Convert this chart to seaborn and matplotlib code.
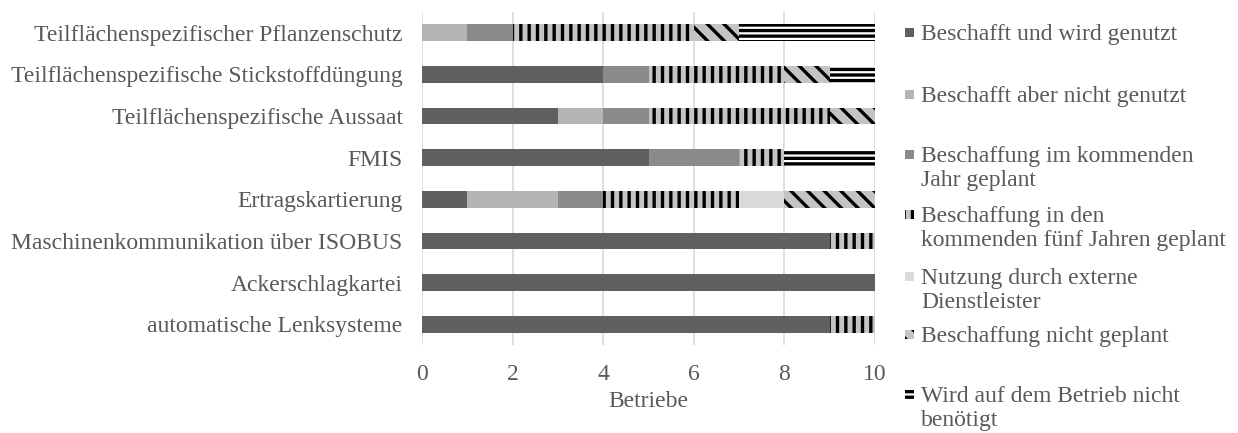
import pandas as pd
import matplotlib.pyplot as plt
import matplotlib.patches as mpatches
import seaborn as sns
import numpy as np

### Daten
kategorien = ["Teilflächenspezifischer Pflanzenschutz",
              "Teilflächenspezifische Stickstoffdüngung",
              "Teilflächenspezifische Aussaat",
              "FMIS",
              "Ertragskartierung",
              "Maschinenkommunikation über ISOBUS",
              "Ackerschlagkartei",
              "automatische Lenksysteme"]

beschafft_genutzt = [0, 4, 3, 5, 1, 9, 10, 9]
beschafft_nicht_genutzt = [1, 0, 1, 0, 2, 0, 0, 0]
kommendes_jahr = [1, 1, 1, 2, 1, 0, 0, 0]
fuenf_jahre = [4, 3, 4, 1, 3, 1, 0, 1]
extern = [0, 0, 0, 0, 1, 0, 0, 0]
nicht_geplant = [1, 1, 1, 0, 2, 0, 0, 0]
nicht_benoetigt = [3, 1, 0, 2, 0, 0, 0, 0]

serien = [
    ("Beschafft und wird genutzt", beschafft_genutzt),
    ("Beschafft aber nicht genutzt", beschafft_nicht_genutzt),
    ("Beschaffung im kommenden\nJahr geplant", kommendes_jahr),
    ("Beschaffung in den\nkommenden fünf Jahren geplant", fuenf_jahre),
    ("Nutzung durch externe\nDienstleister", extern),
    ("Beschaffung nicht geplant", nicht_geplant),
    ("Wird auf dem Betrieb nicht\nbenötigt", nicht_benoetigt),
]

# Stil je Serie: (Füllfarbe, Schraffur)
stile = [("#606060", None), ("#b4b4b4", None), ("#8a8a8a", None),
         ("#c4c4c4", "||"), ("#dadada", None), ("#c4c4c4", "\\\\"),
         ("#ffffff", "---")]

textfarbe = "#595959"
schrift = 17

sns.set_theme(style="white")
plt.rcParams["font.family"] = ["Liberation Serif", "DejaVu Serif"]
plt.rcParams["hatch.linewidth"] = 2.4

df = pd.DataFrame({"kategorie": kategorien})
kumuliert = np.zeros(len(kategorien))
for name, werte in serien:
    kumuliert = kumuliert + np.array(werte)
    df[name] = kumuliert.copy()

fig = plt.figure(figsize=(12.38, 4.33), dpi=100)
ax = fig.add_axes([422 / 1238, 1 - 345 / 433, 453 / 1238, 333 / 433])

# Gestapelte Balken: größte Summe zuerst, dann überdecken
for (name, _), (farbe, schraffur) in reversed(list(zip(serien, stile))):
    sns.barplot(data=df, y="kategorie", x=name, orient="h", color=farbe,
                saturation=1, width=0.4, hatch=schraffur, edgecolor="black",
                linewidth=0, ax=ax, zorder=3)

ax.set_xlim(0, 10)
ax.set_xticks(range(0, 11, 2))
ax.grid(axis="x", color="#d9d9d9", linewidth=1.2, zorder=0)
ax.grid(axis="y", visible=False)
for s in ax.spines.values():
    s.set_visible(False)
ax.tick_params(axis="both", length=0, labelsize=schrift, labelcolor=textfarbe)
ax.tick_params(axis="x", pad=14)
ax.tick_params(axis="y", pad=14)
ax.set_ylabel("")
ax.set_xlabel("Betriebe", fontsize=schrift, color=textfarbe, labelpad=4)

# Legende rechts, manuell gesetzt
zeilen_y = [33, 95, 155, 215, 277, 335, 395]
for (name, _), (farbe, schraffur), y in zip(serien, stile, zeilen_y):
    rect = mpatches.Rectangle((905 / 1238, 1 - (y + 4) / 433), 9 / 1238, 9 / 433,
                              transform=fig.transFigure, facecolor=farbe,
                              hatch=schraffur, edgecolor="black", linewidth=0)
    fig.add_artist(rect)
    fig.text(921 / 1238, 1 - (y - 9) / 433, name, fontsize=schrift, color=textfarbe,
             va="top", ha="left", linespacing=1.2)

plt.savefig("out.png", dpi=100)
